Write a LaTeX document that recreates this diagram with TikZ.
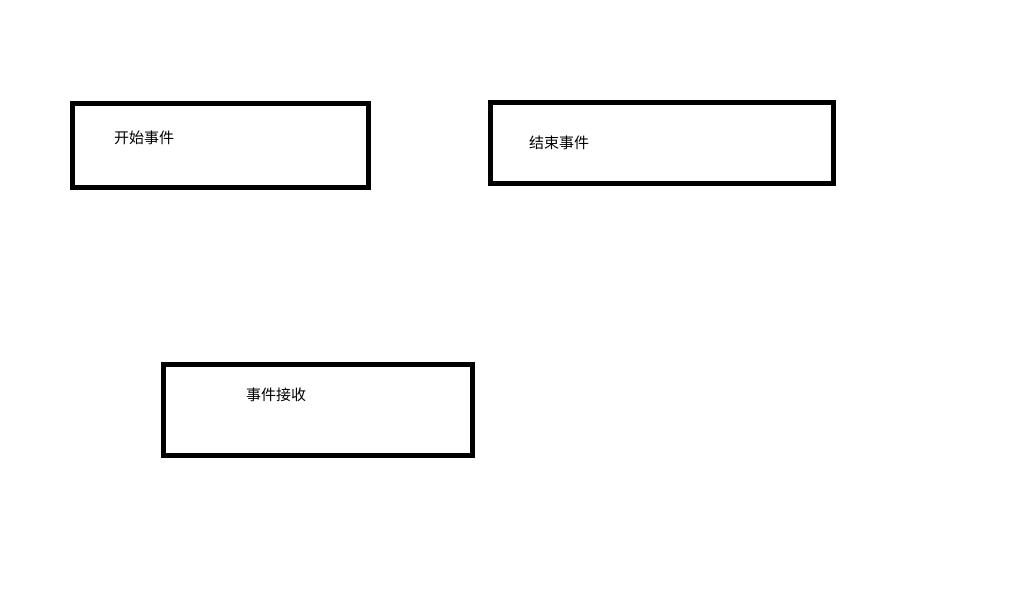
\documentclass[tikz,border=0pt]{standalone}
\usepackage{fontspec}
\newfontfamily\cjk{Noto Sans CJK SC}
\begin{document}
\begin{tikzpicture}[x=1pt,y=-1pt,
	eventbox/.style={draw=black, line width=5pt, inner sep=0pt, fill=white},
	eventtext/.style={anchor=west, inner sep=0pt, font=\cjk\fontsize{15pt}{15pt}\selectfont}]
		\useasboundingbox[fill=white] (0,0) rectangle (1024,600);
		% boxes
		\node[eventbox, minimum width=296pt, minimum height=84pt] (start) at (220.5,145.5) {};
		\node[eventbox, minimum width=343pt, minimum height=81pt] (end) at (662,143) {};
		\node[eventbox, minimum width=309pt, minimum height=91pt] (receive) at (318,410) {};
		% labels
		\node[eventtext] (starttext) at (114,137.5) {开始事件};
		\node[eventtext] (endtext) at (529,142.5) {结束事件};
		\node[eventtext] (receivetext) at (246,395) {事件接收};
	\end{tikzpicture}
\end{document}
